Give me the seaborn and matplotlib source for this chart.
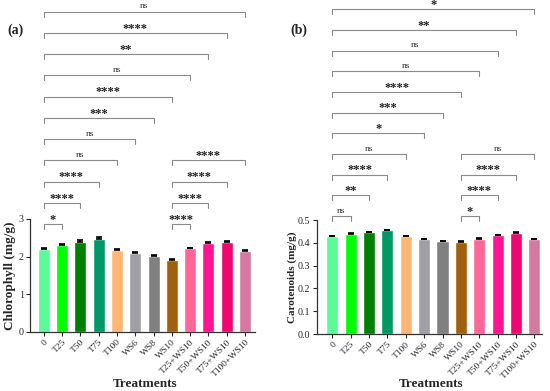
import matplotlib
matplotlib.use("Agg")
import matplotlib.pyplot as plt
import seaborn as sns
import numpy as np
import pandas as pd

treatments = ["0", "T25", "T50", "T75", "T100", "WS6", "WS8", "WS10",
              "T25+WS10", "T50+WS10", "T75+WS10", "T100+WS10"]
colors = ["#5CFB9A", "#00FF00", "#008000", "#009966", "#FFB574", "#A0A0A4",
          "#808080", "#A0600E", "#FF6699", "#FF1493", "#F0066E", "#D4799F"]

chlorophyll = [2.20, 2.31, 2.40, 2.48, 2.18, 2.10, 2.02, 1.90, 2.22, 2.36, 2.40, 2.15]
chlorophyll_err = [0.02, 0.02, 0.03, 0.03, 0.02, 0.02, 0.02, 0.04, 0.02, 0.03, 0.02, 0.02]
carotenoids = [0.430, 0.439, 0.446, 0.455, 0.428, 0.416, 0.408, 0.404, 0.418, 0.433, 0.445, 0.415]
carotenoids_err = [0.002, 0.002, 0.002, 0.002, 0.002, 0.002, 0.002, 0.002, 0.002, 0.002, 0.002, 0.002]

# comparisons: (start, end, label)
chl_sig = [("0", "T25", "*"), ("0", "T50", "****"), ("0", "T75", "****"),
           ("0", "T100", "ns"), ("0", "WS6", "ns"), ("0", "WS8", "***"),
           ("0", "WS10", "****"), ("0", "T25+WS10", "ns"), ("0", "T50+WS10", "**"),
           ("0", "T75+WS10", "****"), ("0", "T100+WS10", "ns"),
           ("WS10", "T25+WS10", "****"), ("WS10", "T50+WS10", "****"),
           ("WS10", "T75+WS10", "****"), ("WS10", "T100+WS10", "****")]
car_sig = [("0", "T25", "ns"), ("0", "T50", "**"), ("0", "T75", "****"),
           ("0", "T100", "ns"), ("0", "WS6", "*"), ("0", "WS8", "***"),
           ("0", "WS10", "****"), ("0", "T25+WS10", "ns"), ("0", "T50+WS10", "ns"),
           ("0", "T75+WS10", "**"), ("0", "T100+WS10", "*"),
           ("WS10", "T25+WS10", "*"), ("WS10", "T50+WS10", "****"),
           ("WS10", "T75+WS10", "****"), ("WS10", "T100+WS10", "ns")]

sns.set_style("ticks")
plt.rcParams["font.family"] = ["Liberation Serif", "DejaVu Serif"]

fig = plt.figure(figsize=(5.5, 3.91), dpi=100)


def draw(ax, vals, errs, sig, ylim, yticks, ylabel, base, step, tick, xlim,
         ylab_size, panel, panel_x, xlab_y, ylab_x):
    df = pd.DataFrame({"Treatment": treatments, "value": vals})
    sns.barplot(data=df, x="Treatment", y="value", hue="Treatment", palette=colors,
                legend=False, ax=ax, width=0.66, errorbar=None, saturation=1)
    x = np.arange(len(treatments))
    ax.errorbar(x, vals, yerr=[np.zeros(len(vals)), errs], fmt="none", ecolor="black",
                elinewidth=1.2, capsize=2.2, capthick=1.2)
    ax.set_ylim(*ylim)
    ax.set_xlim(*xlim)
    ax.set_yticks(yticks)
    if ylim[1] < 1:
        ax.set_yticklabels([f"{t:.1f}" for t in yticks])
    ax.tick_params(axis="both", labelsize=7.2, length=3, width=0.8, pad=1.5)
    ax.set_xticks(x)
    ax.set_xticklabels(treatments, rotation=45, ha="right", rotation_mode="anchor", fontsize=6.8)
    ax.set_xlabel("Treatments", fontsize=9.5, fontweight="bold")
    ax.xaxis.set_label_coords(0.51, xlab_y)
    ax.xaxis.label.set_va("center")
    ax.set_ylabel(ylabel, fontsize=ylab_size, fontweight="bold")
    ax.yaxis.set_label_coords(ylab_x, 0.5)
    ax.yaxis.label.set_va("center")
    for s in ["left", "bottom"]:
        ax.spines[s].set_linewidth(0.9)
        ax.spines[s].set_color("#333333")
    sns.despine(ax=ax)
    levels = {"0": 0, "WS10": 0}
    for a, b, lab in sig:
        i0, i1 = treatments.index(a), treatments.index(b)
        lvl = levels[a]
        levels[a] += 1
        yb = base + lvl * step
        ax.plot([i0, i0, i1, i1], [yb - tick, yb, yb, yb - tick], color="#8a8a8a",
                lw=0.8, clip_on=False)
        if lab == "ns":
            ax.text((i0 + i1) / 2, yb + step * 0.06, lab, ha="center", va="bottom",
                    fontsize=6.8, color="#333333", clip_on=False)
        else:
            ax.text((i0 + i1) / 2, yb - step * 0.08, lab, ha="center", va="bottom",
                    fontsize=9, fontweight="bold", color="#222222", clip_on=False)
    fig.text(panel_x, 1 - 30 / 391, panel, fontsize=10, fontweight="bold", va="center")


ax1 = fig.add_axes([30 / 550, 59.3 / 391, 225 / 550, 112.7 / 391])
draw(ax1, chlorophyll, chlorophyll_err, chl_sig, (0, 3), [0, 1, 2, 3],
     "Chlorophyll (mg/g)", 2.86, 0.566, 0.13, (-0.76, 11.55), 9.5, "(a)", 7 / 550,
     -0.46, -0.089)

ax2 = fig.add_axes([316.7 / 550, 57 / 391, 225 / 550, 114 / 391])
draw(ax2, carotenoids, carotenoids_err, car_sig, (0, 0.5), [0, 0.1, 0.2, 0.3, 0.4, 0.5],
     "Carotenoids (mg/g)", 0.5175, 0.0907, 0.022, (-0.85, 11.4), 8, "(b)", 290 / 550,
     -0.435, -0.11)

fig.savefig("out.png", dpi=100)
